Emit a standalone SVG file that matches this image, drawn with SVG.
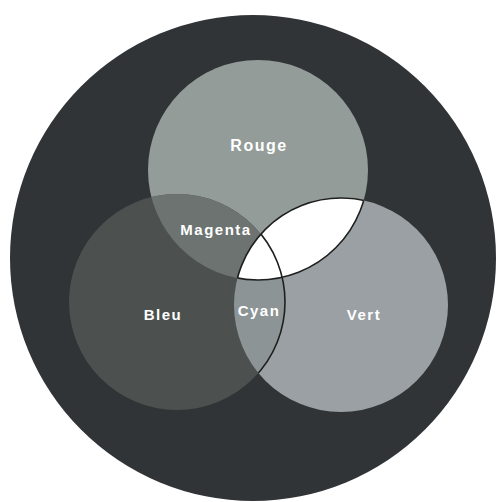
<svg xmlns="http://www.w3.org/2000/svg" width="500" height="502" viewBox="0 0 500 502">
  <style>
    .lbl { font-family: "Liberation Sans", Arial, sans-serif; font-weight: bold; fill: #ffffff; text-anchor: middle; letter-spacing: 1.5px; }
    .line { fill: none; stroke: #1e201e; stroke-width: 1.6; }
  </style>
  <defs>
    <clipPath id="clipRouge"><circle cx="258" cy="170" r="110"/></clipPath>
    <clipPath id="clipVert"><circle cx="341" cy="305" r="107"/></clipPath>
  </defs>
  <rect width="500" height="502" fill="#ffffff"/>
  <g id="fond">
    <circle cx="253" cy="258" r="243" fill="#303437"/>
  </g>
  <g id="rouge">
    <circle cx="258" cy="170" r="110" fill="#939c98"/>
  </g>
  <g id="vert">
    <circle cx="341" cy="305" r="107" fill="#9aa0a3"/>
  </g>
  <g id="bleu">
    <circle cx="177" cy="302" r="108" fill="#4c514f"/>
  </g>
  <g id="magenta">
    <circle cx="177" cy="302" r="108" fill="#6c7370" clip-path="url(#clipRouge)"/>
  </g>
  <g id="cyan">
    <circle cx="177" cy="302" r="108" fill="#8c9495" clip-path="url(#clipVert)"/>
  </g>
  <g id="blanc">
    <g clip-path="url(#clipRouge)">
      <circle cx="341" cy="305" r="107" fill="#ffffff"/>
      <circle cx="341" cy="305" r="107" class="line"/>
    </g>
    <g clip-path="url(#clipVert)">
      <circle cx="258" cy="170" r="110" class="line"/>
    </g>
  </g>
  <g id="connecteurs">
    <g clip-path="url(#clipVert)">
      <circle cx="177" cy="302" r="108" class="line"/>
    </g>
  </g>
  <g id="labels">
    <text class="lbl" x="259" y="151" font-size="16">Rouge</text>
    <text class="lbl" x="216" y="235" font-size="15">Magenta</text>
    <text class="lbl" x="163" y="320" font-size="15">Bleu</text>
    <text class="lbl" x="259" y="316" font-size="15">Cyan</text>
    <text class="lbl" x="364" y="320" font-size="15">Vert</text>
  </g>
</svg>
